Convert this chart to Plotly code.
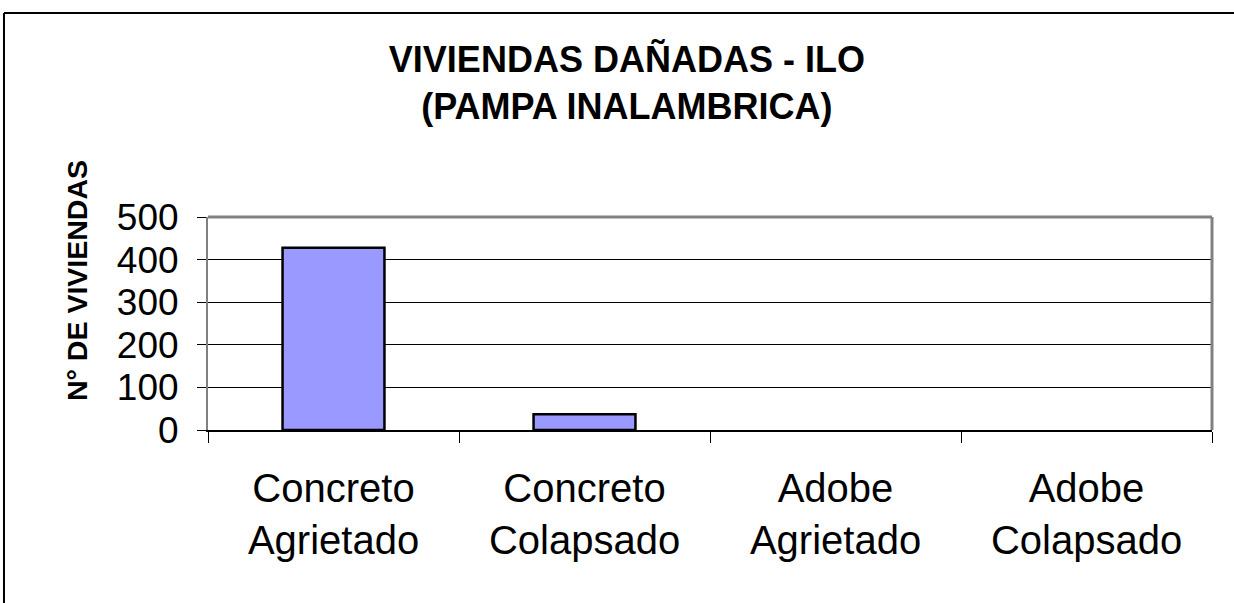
import plotly.graph_objects as go

categories = ["Concreto<br>Agrietado", "Concreto<br>Colapsado", "Adobe<br>Agrietado", "Adobe<br>Colapsado"]
viviendas = [428, 37, 0, 0]
y_ticks = [0, 100, 200, 300, 400, 500]

FONT = "Liberation Sans, Arial, sans-serif"

outline_widths = [2.5 if v > 0 else 0 for v in viviendas]

fig = go.Figure()
fig.add_trace(go.Bar(
    x=categories, y=viviendas,
    marker=dict(color="#9999FF", line=dict(color="black", width=outline_widths)),
    showlegend=False,
))

fig.update_layout(
    width=1234, height=603,
    margin=dict(l=208, r=22, t=217, b=173),
    paper_bgcolor="white", plot_bgcolor="white",
    bargap=0.594,
    font=dict(family=FONT, color="black"),
    title=dict(
        text="<b>VIVIENDAS DAÑADAS - ILO<br>(PAMPA INALAMBRICA)</b>",
        x=0.508, xanchor="center", y=0.88, yanchor="middle",
        font=dict(size=36, family=FONT, color="black"),
    ),
    xaxis=dict(
        type="category", tickson="boundaries",
        ticks="outside", ticklen=11, tickcolor="black", tickwidth=1,
        showline=True, linecolor="black", linewidth=1.5,
        showgrid=False, tickfont=dict(size=40, family=FONT, color="black"),
        ticklabelstandoff=22,
    ),
    yaxis=dict(
        range=[0, 500], tickvals=y_ticks,
        ticks="outside", ticklen=9, tickcolor="black", tickwidth=1,
        showline=True, linecolor="#808080", linewidth=2,
        showgrid=True, gridcolor="black", gridwidth=1,
        zeroline=False,
        tickfont=dict(size=37, family=FONT, color="black"),
        ticklabelstandoff=11,
    ),
    shapes=[
        dict(type="line", xref="paper", yref="paper", x0=0, x1=1, y0=1, y1=1,
             line=dict(color="#808080", width=3)),
        dict(type="line", xref="paper", yref="paper", x0=1, x1=1, y0=0, y1=1,
             line=dict(color="#808080", width=3)),
        dict(type="line", xref="paper", yref="paper", x0=-0.2032, x1=1.05, y0=1.958, y1=1.958,
             line=dict(color="black", width=2)),
        dict(type="line", xref="paper", yref="paper", x0=-0.2032, x1=-0.2032, y0=1.958, y1=-0.9,
             line=dict(color="black", width=2)),
    ],
    annotations=[
        dict(text="<b>N° DE VIVIENDAS</b>", textangle=-90,
             xref="paper", yref="paper", x=-0.1305, y=0.704,
             xanchor="center", yanchor="middle", showarrow=False,
             font=dict(size=28.5, family=FONT, color="black")),
    ],
)

fig.write_html("out.html", post_script="document.body.style.margin='0';",
               config={"displayModeBar": False})
